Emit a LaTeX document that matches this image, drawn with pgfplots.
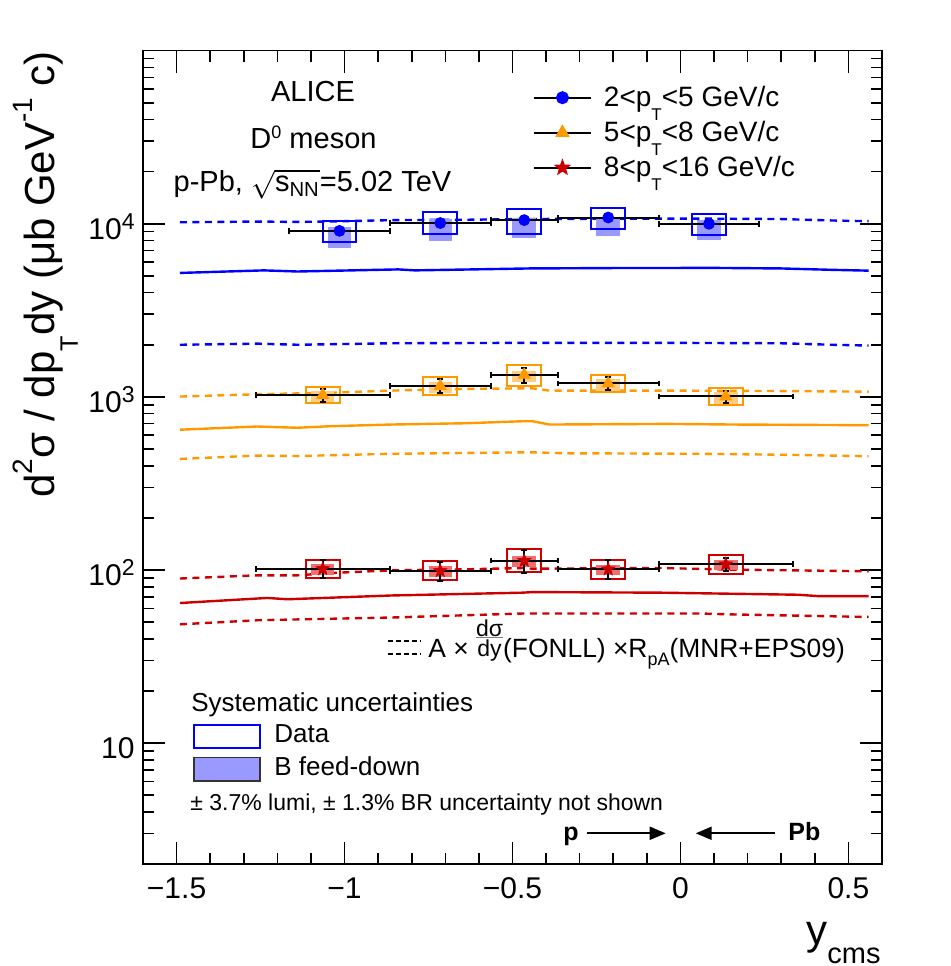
\documentclass[border=0pt]{standalone}
\usepackage{fontspec}
\setmainfont{Liberation Sans}
\usepackage{amsmath}
\usepackage{pgfplots}
\pgfplotsset{compat=1.18}
\usetikzlibrary{arrows.meta}

\definecolor{cblue}{RGB}{0,0,255}
\definecolor{corange}{RGB}{255,153,0}
\definecolor{cred}{RGB}{204,0,0}
\definecolor{fdblue}{RGB}{153,153,255}
\definecolor{fdorange}{RGB}{255,204,128}
\definecolor{fdred}{RGB}{240,110,110}

\newcommand{\fs}[1]{\fontsize{#1}{#1}\selectfont}
\newcommand{\rsup}[3]{\raisebox{#2}{\fs{#1}#3}}

\newlength\fracwa
\newlength\fracwb
\newcommand{\rfrac}[2]{%
 \settowidth{\fracwa}{\fs{11.5pt}#1}\settowidth{\fracwb}{\fs{11.5pt}#2}%
 \ifdim\fracwb>\fracwa\setlength{\fracwa}{\fracwb}\fi
 \makebox[0pt][l]{\raisebox{10.6pt}{\makebox[\fracwa][c]{\fs{11.5pt}#1}}}%
 \makebox[0pt][l]{\color{gray}\rule[9.7pt]{\fracwa}{0.4pt}}%
 \raisebox{0.6pt}{\makebox[\fracwa][c]{\fs{11.5pt}#2}}}

\pgfdeclareplotmark{fstar}{%
  \pgfpathmoveto{\pgfpointpolar{90}{\pgfplotmarksize}}%
  \pgfpathlineto{\pgfpointpolar{126}{0.42\pgfplotmarksize}}%
  \pgfpathlineto{\pgfpointpolar{162}{\pgfplotmarksize}}%
  \pgfpathlineto{\pgfpointpolar{198}{0.42\pgfplotmarksize}}%
  \pgfpathlineto{\pgfpointpolar{234}{\pgfplotmarksize}}%
  \pgfpathlineto{\pgfpointpolar{270}{0.42\pgfplotmarksize}}%
  \pgfpathlineto{\pgfpointpolar{306}{\pgfplotmarksize}}%
  \pgfpathlineto{\pgfpointpolar{342}{0.42\pgfplotmarksize}}%
  \pgfpathlineto{\pgfpointpolar{18}{\pgfplotmarksize}}%
  \pgfpathlineto{\pgfpointpolar{54}{0.42\pgfplotmarksize}}%
  \pgfpathclose
  \pgfusepathqfillstroke
}

% style, xlo, xhi, ylo, yhi
\newcommand{\sysbox}[5]{%
  \addplot[#1, forget plot] coordinates {(#2,#4) (#3,#4) (#3,#5) (#2,#5)} -- cycle;
}

\begin{document}
\begin{tikzpicture}
\useasboundingbox (-71.5pt,-51pt) rectangle (403.5pt,432pt);
\begin{axis}[
  at={(0,0)}, anchor=south west,
  width=369.5pt, height=406.65pt, scale only axis,
  xmin=-1.6, xmax=0.6, ymin=2, ymax=1e5, ymode=log,
  axis line style={line width=0.8pt},
  tick style={black, line width=0.8pt},
  tick align=inside,
  xtick pos=both, ytick pos=both,
  xticklabel pos=left, yticklabel pos=left,
  major tick length=11pt, minor tick length=5.5pt,
  xtick={-1.5,-1,-0.5,0,0.5},
  xticklabels={−1.5,−1,−0.5,0,0.5},
  minor xtick={-1.4,-1.3,-1.2,-1.1,-0.9,-0.8,-0.7,-0.6,-0.4,-0.3,-0.2,-0.1,0.1,0.2,0.3,0.4},
  ytick={10,100,1000,10000},
  yticklabels={10,10\rsup{11.5pt}{5pt}{2},10\rsup{11.5pt}{5pt}{3},10\rsup{11.5pt}{5pt}{4}},
  minor ytick={3,4,5,6,7,8,9,20,30,40,50,60,70,80,90,200,300,400,500,600,700,800,900,2000,3000,4000,5000,6000,7000,8000,9000,20000,30000,40000,50000,60000,70000,80000,90000},
  xticklabel style={font=\fs{15pt}, anchor=base, yshift=-17.15pt},
  yticklabel style={font=\fs{15pt}, anchor=base east, yshift=-7.65pt, inner xsep=4pt},
  legend style={draw=none, fill=none, inner sep=0pt, outer sep=0pt,
    at={(axis description cs:0.5277,0.9582)}, anchor=north west,
    row sep=4.5pt, font=\fs{14pt},
    nodes={inner sep=0pt, text height=11pt, text depth=2pt},
    /tikz/every odd column/.append style={column sep=6pt}},
  legend cell align=left,
  legend image code/.code={\draw[mark repeat=2,mark phase=2,#1] plot coordinates {(0pt,0pt) (14.25pt,0pt) (28.5pt,0pt)};},
  every axis plot/.append style={error bars/error mark options={rotate=90, black, line width=1pt, mark size=1.4pt}},
]
% ---------- theory: FONLL x RpA ----------
\addplot[cblue, line width=1.2pt, dash pattern=on 3.5pt off 2.75pt, forget plot] coordinates {
(-1.49,10200) (-1.26,10300) (-1.14,10250) (-1.0,10350) (-0.86,10500) (-0.64,10550) (-0.47,10650) (-0.2,10700) (0.1,10700) (0.3,10650) (0.45,10450) (0.56,10350)};
\addplot[cblue, line width=1.2pt, forget plot] coordinates {
(-1.49,5200) (-1.24,5380) (-1.14,5300) (-0.84,5450) (-0.79,5380) (-0.45,5520) (-0.2,5550) (0.1,5560) (0.3,5520) (0.45,5420) (0.56,5360)};
\addplot[cblue, line width=1.2pt, dash pattern=on 3.5pt off 2.75pt, forget plot] coordinates {
(-1.49,2000) (-1.26,2030) (-1.14,2000) (-0.86,2040) (-0.5,2050) (0,2050) (0.3,2040) (0.45,2000) (0.56,1980)};

\addplot[corange, line width=1.2pt, dash pattern=on 3.5pt off 2.75pt, forget plot] coordinates {
(-1.49,1004) (-1.26,1035) (-1.04,1057) (-0.86,1087) (-0.64,1112) (-0.47,1120) (-0.44,1120) (-0.39,1087) (-0.04,1087) (0.3,1080) (0.56,1072)};
\addplot[corange, line width=1.2pt, forget plot] coordinates {
(-1.49,646) (-1.26,674) (-1.14,663) (-1.04,677) (-0.86,692) (-0.64,704) (-0.47,723) (-0.44,723) (-0.39,692) (-0.04,698) (0.16,692) (0.56,686)};
\addplot[corange, line width=1.2pt, dash pattern=on 3.5pt off 2.75pt, forget plot] coordinates {
(-1.49,438) (-1.26,458) (-1.14,455) (-0.86,469) (-0.47,478) (-0.44,478) (-0.34,472) (0.06,469) (0.3,463) (0.56,454)};

\addplot[cred, line width=1.2pt, dash pattern=on 3.5pt off 2.75pt, forget plot] coordinates {
(-1.49,89.2) (-1.26,93.1) (-1.14,93.1) (-1.04,96) (-0.86,99.5) (-0.64,100.8) (-0.47,102.6) (-0.44,101.7) (-0.06,102.6) (0.16,100.4) (0.56,98.2)};
\addplot[cred, line width=1.2pt, forget plot] coordinates {
(-1.49,64.4) (-1.23,68.9) (-1.17,67.7) (-0.86,71.2) (-0.47,73.9) (-0.44,74.5) (-0.06,73.9) (0.35,71.9) (0.41,70.6) (0.56,70.6)};
\addplot[cred, line width=1.2pt, dash pattern=on 3.5pt off 2.75pt, forget plot] coordinates {
(-1.49,48.5) (-1.26,51.2) (-0.86,53.1) (-0.47,56) (0.06,56) (0.16,55.3) (0.56,53.5)};

% ---------- B feed-down boxes ----------
\sysbox{draw=none, fill=fdblue}{-1.05}{-0.98}{7240}{9520}
\sysbox{draw=none, fill=fdblue}{-0.75}{-0.68}{7980}{10690}
\sysbox{draw=none, fill=fdblue}{-0.50}{-0.43}{8270}{10730}
\sysbox{draw=none, fill=fdblue}{-0.25}{-0.18}{8530}{10870}
\sysbox{draw=none, fill=fdblue}{0.05}{0.12}{8050}{10500}

\sysbox{draw=none, fill=fdorange}{-1.10}{-1.03}{933}{1087}
\sysbox{draw=none, fill=fdorange}{-0.75}{-0.68}{1051}{1224}
\sysbox{draw=none, fill=fdorange}{-0.50}{-0.43}{1219}{1420}
\sysbox{draw=none, fill=fdorange}{-0.25}{-0.18}{1087}{1267}
\sysbox{draw=none, fill=fdorange}{0.10}{0.17}{915}{1065}

\sysbox{draw=none, fill=fdred}{-1.10}{-1.03}{93.4}{107.6}
\sysbox{draw=none, fill=fdred}{-0.75}{-0.68}{90.9}{104.7}
\sysbox{draw=none, fill=fdred}{-0.50}{-0.43}{104}{119.9}
\sysbox{draw=none, fill=fdred}{-0.25}{-0.18}{93}{107.2}
\sysbox{draw=none, fill=fdred}{0.10}{0.17}{99.4}{114.5}

% ---------- systematic boxes ----------
\sysbox{cblue, line width=1pt}{-1.065}{-0.965}{7800}{10410}
\sysbox{cblue, line width=1pt}{-0.765}{-0.665}{8720}{11620}
\sysbox{cblue, line width=1pt}{-0.515}{-0.415}{8720}{12250}
\sysbox{cblue, line width=1pt}{-0.265}{-0.165}{9320}{12400}
\sysbox{cblue, line width=1pt}{0.035}{0.135}{8600}{11460}

\sysbox{corange, line width=1pt}{-1.115}{-1.015}{919}{1147}
\sysbox{corange, line width=1pt}{-0.765}{-0.665}{1031}{1297}
\sysbox{corange, line width=1pt}{-0.515}{-0.415}{1162}{1536}
\sysbox{corange, line width=1pt}{-0.265}{-0.165}{1073}{1340}
\sysbox{corange, line width=1pt}{0.085}{0.185}{903}{1121}

\sysbox{cred, line width=1pt}{-1.115}{-1.015}{89.8}{114.7}
\sysbox{cred, line width=1pt}{-0.765}{-0.665}{87.1}{112}
\sysbox{cred, line width=1pt}{-0.515}{-0.415}{97.3}{131.5}
\sysbox{cred, line width=1pt}{-0.265}{-0.165}{89.1}{114.7}
\sysbox{cred, line width=1pt}{0.085}{0.185}{95.2}{122.5}

% ---------- data points ----------
\addplot[cblue, only marks, mark=*, mark size=2.75pt, forget plot,
  error bars/.cd, x dir=both, x explicit, y dir=both, y explicit,
  error bar style={black, line width=1pt}]
  table[x=x, y=y, x error=ex, y error=ey] {
x y ex ey
-1.015 9100 0.15 450
-0.715 10100 0.15 500
-0.465 10500 0.10 520
-0.215 10870 0.15 540
0.085 10000 0.15 500
};
\addplot[corange, only marks, mark=triangle*, mark size=3.4pt, forget plot,
  error bars/.cd, x dir=both, x explicit, y dir=both, y explicit,
  error bar style={black, line width=1pt}]
  table[x=x, y=y, x error=ex, y error=ey] {
x y ex ey
-1.065 1025 0.20 85
-0.715 1155 0.15 105
-0.465 1340 0.10 130
-0.215 1195 0.15 100
0.135 1005 0.20 82
};
\addplot[cred, only marks, mark=fstar, mark size=3.4pt, forget plot,
  error bars/.cd, x dir=both, x explicit, y dir=both, y explicit,
  error bar style={black, line width=1pt}]
  table[x=x, y=y, x error=ex, y error=ey] {
x y ex ey
-1.065 101.5 0.20 12
-0.715 98.8 0.15 12.5
-0.465 113.1 0.10 17
-0.215 101.1 0.15 13
0.135 108 0.20 9
};

% ---------- legend ----------
\addlegendimage{black, line width=1pt, mark=*, mark options={cblue, solid, mark size=2.75pt}}
\addlegendentry{2<p\rsup{8.5pt}{-6.7pt}{T}<5 GeV/c}
\addlegendimage{black, line width=1pt, mark=triangle*, mark options={corange, solid, mark size=3.2pt}}
\addlegendentry{5<p\rsup{8.5pt}{-6.7pt}{T}<8 GeV/c}
\addlegendimage{black, line width=1pt, mark=fstar, mark options={cred, solid, mark size=3.2pt}}
\addlegendentry{8<p\rsup{8.5pt}{-6.7pt}{T}<16 GeV/c}
\end{axis}

% ---------- texts ----------
\node[anchor=base, inner sep=0pt, font=\fs{14.5pt}] at (85pt,381.35pt) {ALICE};
\node[anchor=base, inner sep=0pt, font=\fs{14.5pt}] at (85.25pt,357.85pt) {D\rsup{9pt}{5pt}{0} meson};
\node[anchor=base, inner sep=0pt, font=\fs{14.5pt}] at (84.75pt,336.15pt) {p-Pb, $\sqrt{\text{s}_{\text{NN}}}$=5.02 TeV};

\draw[black, line width=1pt, dash pattern=on 2.5pt off 1.5pt] (122.5pt,111.5pt) -- (139pt,111.5pt);
\draw[black, line width=1pt, dash pattern=on 2.5pt off 1.5pt] (122.5pt,105pt) -- (139pt,105pt);
\node[anchor=base west, inner sep=0pt, font=\fs{13.2pt}] at (142.5pt,103.35pt) {A × \rfrac{dσ}{dy}(FONLL) ×R\rsup{9pt}{-4pt}{pA}(MNR+EPS09)};

\node[anchor=base west, inner sep=0pt, font=\fs{13pt}] at (24pt,76.15pt) {Systematic uncertainties};
\draw[cblue, line width=1pt, fill=white] (25.5pt,57.85pt) rectangle (58.5pt,69.35pt);
\node[anchor=base west, inner sep=0pt, font=\fs{13pt}] at (65.5pt,60.65pt) {Data};
\draw[black!80, line width=0.8pt, fill=fdblue] (25.5pt,41.5pt) rectangle (58.5pt,53.15pt);
\node[anchor=base west, inner sep=0pt, font=\fs{13pt}] at (65.5pt,44.5pt) {B feed-down};
\node[anchor=base west, inner sep=0pt, font=\fs{11.5pt}] at (23.5pt,27pt) {± 3.7\% lumi, ± 1.3\% BR uncertainty not shown};

\node[anchor=base west, inner sep=0pt, font=\fs{12.5pt}\bfseries] at (210pt,11.65pt) {p};
\draw[-{Triangle[length=8pt,width=6.5pt]}, line width=1pt] (221.85pt,15.35pt) -- (261.35pt,15.35pt);
\draw[-{Triangle[length=8pt,width=6.5pt]}, line width=1pt] (316pt,15.35pt) -- (276.35pt,15.35pt);
\node[anchor=base west, inner sep=0pt, font=\fs{12.5pt}\bfseries] at (322.5pt,11.65pt) {Pb};

% ---------- axis titles ----------
\node[rotate=90, anchor=base east, inner sep=0pt, font=\fs{21pt}] at (-44pt,406.65pt)
  {d\rsup{14pt}{11pt}{2}σ / dp\rsup{12.6pt}{-11.5pt}{T}dy (μb GeV\rsup{14pt}{11pt}{-1} c)};
\node[anchor=base east, inner sep=0pt, font=\fs{21pt}] at (369pt,-40pt) {y\rsup{14.5pt}{-9.5pt}{cms}};
\end{tikzpicture}
\end{document}
